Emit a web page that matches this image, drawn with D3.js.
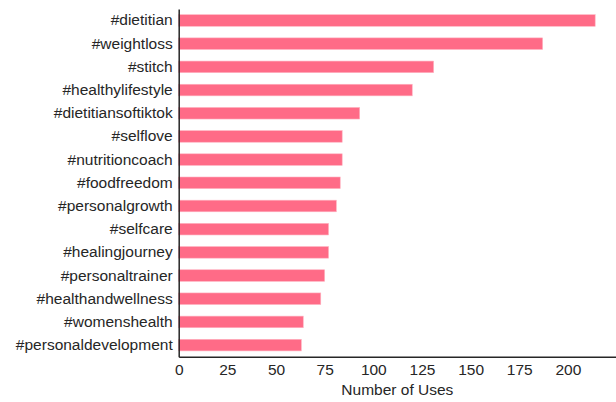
<!DOCTYPE html>
<html>
<head>
<meta charset="utf-8">
<script src="https://cdn.jsdelivr.net/npm/d3@7"></script>
<style>
  body { margin: 0; background: #fff; }
  text { font-family: "Liberation Sans", Arial, sans-serif; }
</style>
</head>
<body>
<div id="chart"></div>
<script>
// hashtags, top to bottom
var hashtags = [
    "#dietitian", "#weightloss", "#stitch", "#healthylifestyle",
    "#dietitiansoftiktok", "#selflove", "#nutritioncoach", "#foodfreedom",
    "#personalgrowth", "#selfcare", "#healingjourney", "#personaltrainer",
    "#healthandwellness", "#womenshealth", "#personaldevelopment"
];
var uses = [214, 187, 131, 120, 93, 84, 84, 83, 81, 77, 77, 75, 73, 64, 63];
var xTicks = [0, 25, 50, 75, 100, 125, 150, 175, 200];

var width = 616, height = 402;
var margin = {top: 8.9, right: 0, bottom: 45.3, left: 178.7};
var ink = "#262626";
var fontSize = "15.5px";

var svg = d3.select("#chart").append("svg")
    .attr("width", width)
    .attr("height", height);

var x = d3.scaleLinear()
    .domain([0, d3.max(uses) * 1.05])
    .range([margin.left, width - margin.right]);

var y = d3.scaleBand()
    .domain(hashtags)
    .range([margin.top, height - margin.bottom])
    .paddingInner(0.5)
    .paddingOuter(0.25);

var rows = hashtags.map(function (h, i) {
    return {tag: h, value: uses[i]};
});

svg.append("g")
    .selectAll("rect")
    .data(rows)
    .enter()
    .append("rect")
    .attr("x", x(0))
    .attr("y", function (d) { return y(d.tag); })
    .attr("width", function (d) { return x(d.value) - x(0); })
    .attr("height", y.bandwidth())
    .attr("fill", "#ff6b87")
    .attr("stroke", "#ffb3c1")
    .attr("stroke-width", 0.6);

// left axis (labels only, spine drawn by domain path)
var yAxis = svg.append("g")
    .attr("transform", "translate(" + margin.left + ",0)")
    .call(d3.axisLeft(y).tickSize(0).tickPadding(6).tickSizeOuter(0));

var xAxis = svg.append("g")
    .attr("transform", "translate(0," + (height - margin.bottom) + ")")
    .call(d3.axisBottom(x).tickValues(xTicks).tickSize(0).tickPadding(7).tickSizeOuter(0));

[yAxis, xAxis].forEach(function (ax) {
    ax.select(".domain")
        .attr("stroke", ink)
        .attr("stroke-width", 1.5);
    ax.selectAll("text")
        .attr("fill", ink)
        .style("font-size", fontSize)
        .style("font-family", "'Liberation Sans', Arial, sans-serif");
});

svg.append("text")
    .attr("x", (x.range()[0] + x.range()[1]) / 2)
    .attr("y", 395)
    .attr("text-anchor", "middle")
    .attr("fill", ink)
    .style("font-size", fontSize)
    .text("Number of Uses");
</script>
</body>
</html>
